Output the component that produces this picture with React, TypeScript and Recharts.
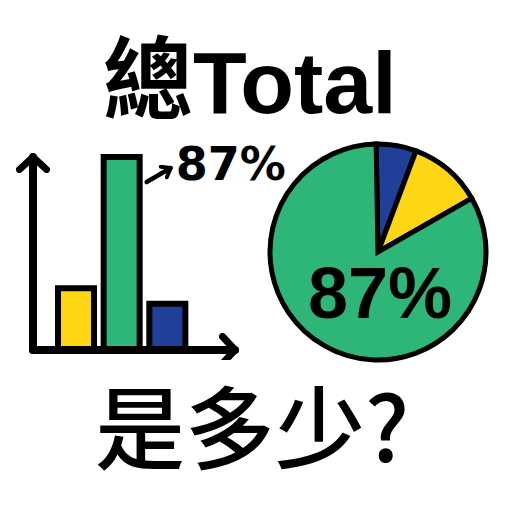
import { BarChart, Bar, XAxis, YAxis, Cell, LabelList, PieChart, Pie } from 'recharts';

const barCategories = ['yellow', 'green', 'blue'];
const barValues = [32, 100, 24];
const barColors = ['#ffd613', '#2eb678', '#1f3f98'];

const pieNames = ['blue', 'yellow', 'green'];
const pieValues = [6, 11, 83];
const pieColors = ['#1f3f98', '#ffd613', '#2eb678'];

const shareLabel = '87%';

const barData = barCategories.map((name, i) => ({ name, value: barValues[i] }));
const pieData = pieNames.map((name, i) => ({ name, value: pieValues[i] }));

const maxBar = Math.max(...barValues);

function BarNote(props: any) {
  const { x, y, width, value } = props;
  if (value !== maxBar) return null;
  const right = x + width;
  return (
    <g>
      <line
        x1={right + 7}
        y1={y + 25}
        x2={right + 31}
        y2={y + 11}
        stroke="#000"
        strokeWidth={4.5}
        strokeLinecap="round"
        markerEnd="url(#smallHead)"
      />
      <text x={right + 36} y={y + 23} fontFamily="DejaVu Sans" fontWeight={700} fontSize={46} fill="#000">
        {shareLabel}
      </text>
    </g>
  );
}

function PieNote(props: any) {
  const { cx, cy, index } = props;
  if (index !== pieValues.indexOf(Math.max(...pieValues))) return null;
  return (
    <text x={cx + 2} y={cy + 66} textAnchor="middle" fontFamily="Liberation Sans" fontWeight={700} fontSize={72} fill="#000">
      {shareLabel}
    </text>
  );
}

export default function App() {
  return (
    <div style={{ position: 'absolute', left: 0, top: 0, width: 512, height: 512, background: '#fff' }}>
      {/* the axisLine strokeWidth prop did not take, so force it here */}
      <style>{`.recharts-cartesian-axis-line { stroke: #000 !important; stroke-width: 8px !important; stroke-linecap: round; }`}</style>
      <svg width={512} height={512} style={{ position: 'absolute', left: 0, top: 0 }}>
        <text x={103} y={112} fontFamily="Noto Sans CJK TC" fontWeight={700} fontSize={90} fill="#000">總</text>
        <text x={193} y={113} fontFamily="Liberation Sans" fontWeight={700} fontSize={88} fill="#000">Total</text>
        <text x={95} y={462} fontFamily="Noto Sans CJK TC" fontWeight={500} fontSize={90} fill="#000">是多少?</text>
      </svg>

      <div style={{ position: 'absolute', left: 0, top: 130 }}>
        <BarChart width={300} height={230} data={barData} margin={{ top: 27, right: 65, left: 32, bottom: 9 }}>
          <defs>
            <marker id="bigHead" viewBox="0 0 22 34" refX={16} refY={17} markerWidth={22} markerHeight={34} markerUnits="userSpaceOnUse" orient="auto-start-reverse">
              <path d="M3.5,3.5 L16,17 L3.5,30.5" fill="none" stroke="#000" strokeWidth={7} strokeLinecap="round" strokeLinejoin="round" />
            </marker>
            <marker id="smallHead" viewBox="0 0 14 16" refX={10} refY={8} markerWidth={14} markerHeight={16} markerUnits="userSpaceOnUse" orient="auto">
              <path d="M2,2 L10,8 L2,14" fill="none" stroke="#000" strokeWidth={4} strokeLinecap="round" strokeLinejoin="round" />
            </marker>
          </defs>
          <XAxis
            dataKey="name"
            height={1}
            tick={false}
            tickLine={false}
            padding={{ left: 20, right: 45 }}
            axisLine={{ stroke: '#000', strokeWidth: 6, markerEnd: 'url(#bigHead)' } as any}
          />
          <YAxis
            width={1}
            domain={[0, 100]}
            tick={false}
            tickLine={false}
            axisLine={{ stroke: '#000', strokeWidth: 6, markerStart: 'url(#bigHead)' } as any}
          />
          <Bar dataKey="value" barSize={36} stroke="#000" strokeWidth={6} isAnimationActive={false}>
            {barData.map((d, i) => (
              <Cell key={d.name} fill={barColors[i]} />
            ))}
            <LabelList dataKey="value" content={BarNote} />
          </Bar>
        </BarChart>
      </div>

      <div style={{ position: 'absolute', left: 253, top: 127 }}>
        <PieChart width={250} height={250} margin={{ top: 0, right: 0, bottom: 0, left: 0 }}>
          <Pie
            data={pieData}
            dataKey="value"
            nameKey="name"
            cx="50%"
            cy="50%"
            outerRadius={108}
            startAngle={91}
            endAngle={-269}
            stroke="#000"
            strokeWidth={5}
            label={PieNote}
            labelLine={false}
            isAnimationActive={false}
          >
            {pieData.map((d, i) => (
              <Cell key={d.name} fill={pieColors[i]} />
            ))}
          </Pie>
        </PieChart>
      </div>
    </div>
  );
}
